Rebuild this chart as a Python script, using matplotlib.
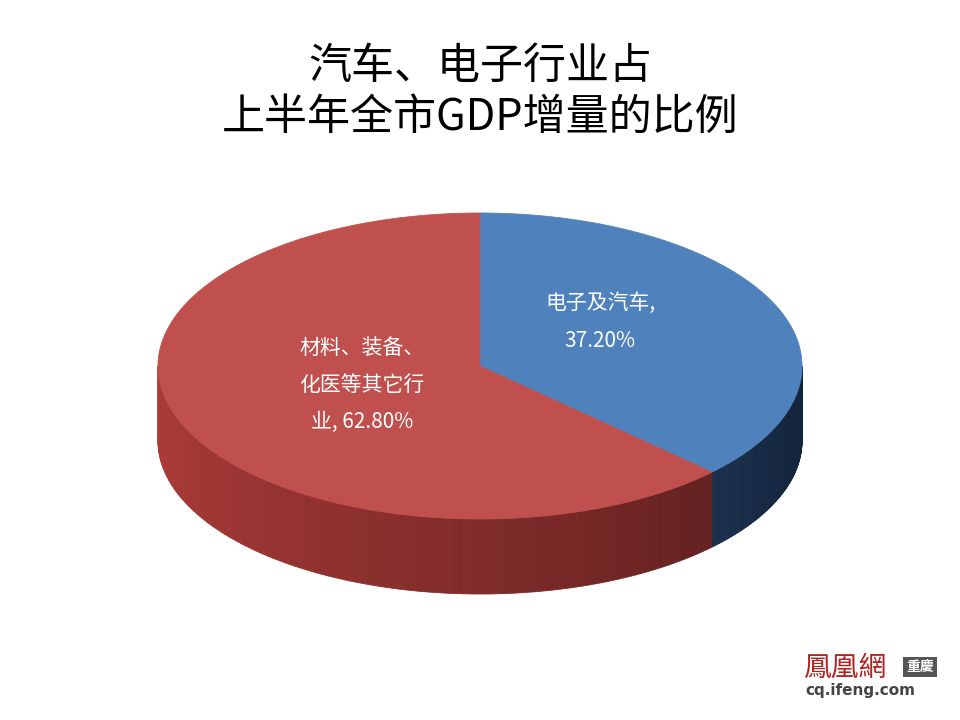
import numpy as np
import matplotlib.pyplot as plt
from matplotlib.patches import Polygon
import matplotlib.colors as mcolors

plt.rcParams['font.family'] = ['Noto Sans CJK SC', 'DejaVu Sans']

categories = ['电子及汽车', '材料、装备、\n化医等其它行\n业']
shares = [37.20, 62.80]
colors_top = ['#4f81bd', '#c0504d']
colors_side = ['#1f3a5e', '#8a2f2d']
title = '汽车、电子行业占\n上半年全市GDP增量的比例'

cx, cy, rx, ry, depth = 480, 366, 322, 153, 75

fig = plt.figure(figsize=(9.6, 7.2), dpi=100)
ax = fig.add_axes([0, 0, 1, 1])
ax.set_xlim(0, 960)
ax.set_ylim(720, 0)
ax.axis('off')

def pt(theta_deg, dy=0):
    t = np.radians(theta_deg)
    return cx + rx * np.cos(t), cy - ry * np.sin(t) + dy

# slice angles, clockwise from 12 o'clock
start = 90.0
bounds = []
for s in shares:
    end = start - s * 3.6
    bounds.append((start, end))
    start = end

# side walls (front half: angles -180..0)
for i, (a0, a1) in enumerate(bounds):
    lo, hi = min(a0, a1), max(a0, a1)
    segs = []
    for off in (0, -360):
        l, h = lo + off, hi + off
        l2, h2 = max(l, -180), min(h, 0)
        if h2 > l2:
            segs.append((l2, h2))
    base = np.array(mcolors.to_rgb(colors_side[i]))
    for l2, h2 in segs:
        angs = np.linspace(l2, h2, 120)
        for a, b in zip(angs[:-1], angs[1:]):
            f = 1.35 - 0.75 * (np.cos(np.radians(a - 200)) * -0.5 + 0.5)
            if i == 1:
                f = 1.25 - 0.75 * ((a + 180) / 180) ** 1.2
            c = np.clip(base * f, 0, 1)
            p = [pt(a), pt(b), pt(b, depth), pt(a, depth)]
            ax.add_patch(Polygon(p, closed=True, fc=c, ec=c, lw=0.6))

# top faces
for i, (a0, a1) in enumerate(bounds):
    angs = np.linspace(a0, a1, 200)
    p = [(cx, cy)] + [pt(a) for a in angs]
    ax.add_patch(Polygon(p, closed=True, fc=colors_top[i], ec=colors_top[i], lw=0.6))

# labels
ax.text(600, 322, f'{categories[0]},\n{shares[0]:.2f}%', color='white', fontsize=15,
        ha='center', va='center', linespacing=1.9)
ax.text(362, 385, f'{categories[1]}, {shares[1]:.2f}%', color='white', fontsize=15,
        ha='center', va='center', linespacing=1.9)

ax.text(480, 92, title, fontsize=31, ha='center', va='center', linespacing=1.2)

# watermark
ax.text(845, 668, '鳳凰網', fontsize=20, color='#b22222', ha='center', va='center',
        family=['Noto Sans CJK TC', 'DejaVu Sans'])
ax.text(920, 667, '重慶', fontsize=10, color='white', ha='center', va='center', fontweight='bold',
        family=['Noto Sans CJK TC', 'DejaVu Sans'],
        bbox=dict(fc='#555555', ec='none', pad=2))
ax.text(860, 691, 'cq.ifeng.com', fontsize=11, color='#444444', ha='center', va='center',
        fontweight='bold', family=['DejaVu Sans'])

fig.savefig('out.png', dpi=100)
